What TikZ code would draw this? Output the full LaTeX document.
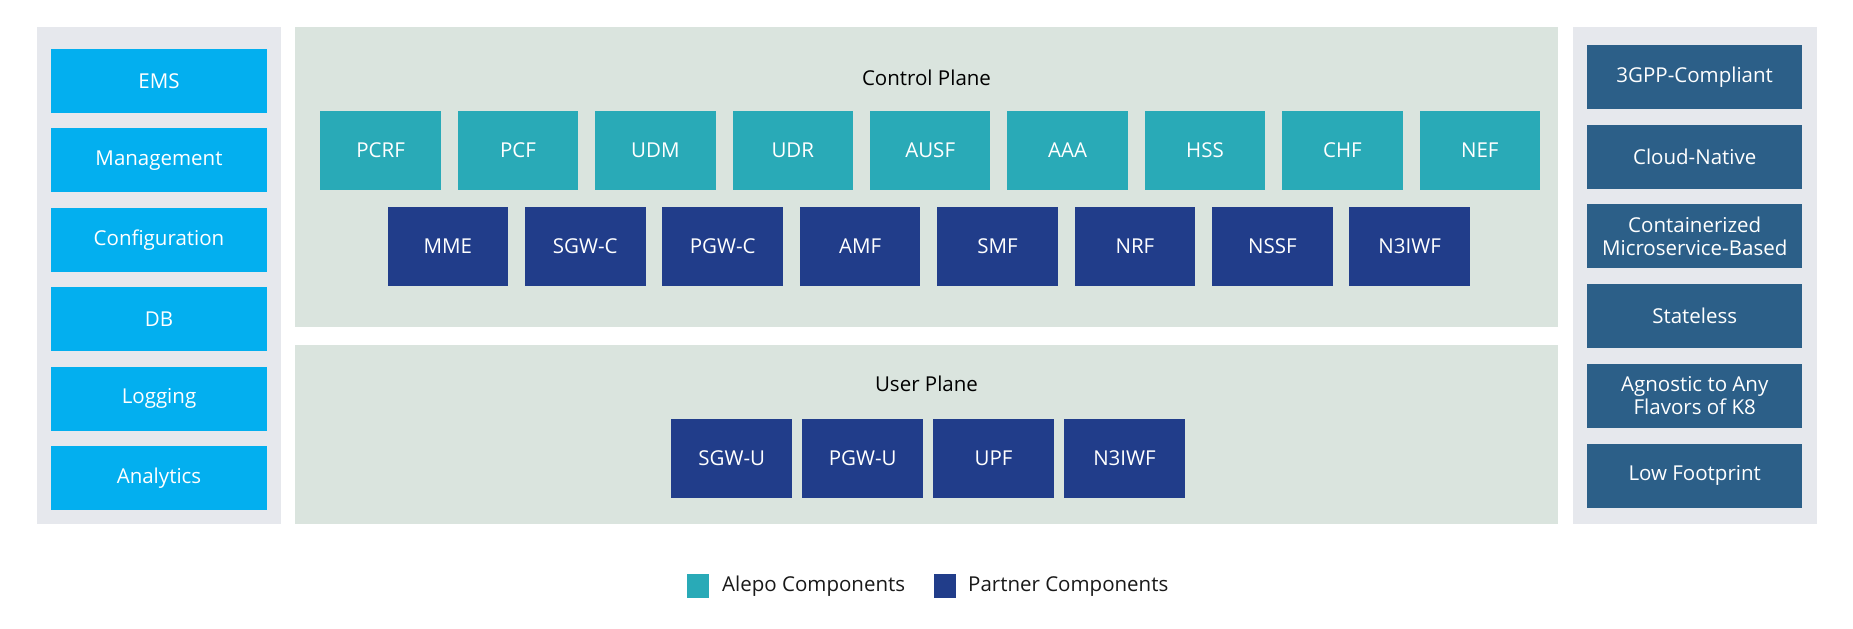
\documentclass[tikz,border=0pt]{standalone}
\usepackage{fontspec}
\setmainfont{Open Sans}
\usepackage{tikz}
\usetikzlibrary{positioning}

\definecolor{sidebg}{HTML}{E6E8ED}
\definecolor{planebg}{HTML}{DAE4DE}
\definecolor{toolblue}{HTML}{03AFEF}
\definecolor{alepo}{HTML}{29AAB7}
\definecolor{partner}{HTML}{213D8A}
\definecolor{feature}{HTML}{2C5F88}

\begin{document}
\begin{tikzpicture}[x=1pt,y=1pt,node distance=16.5pt,
    every node/.style={font=\fontsize{20.5}{23}\selectfont},
    panel/.style={inner sep=0pt,minimum width=1262.2pt},
    side panel/.style={inner sep=0pt,fill=sidebg,minimum width=244pt,minimum height=496.3pt},
    nf node/.style={minimum width=120.5pt,minimum height=79pt,inner sep=0pt,text=white},
    alepo node/.style={nf node,fill=alepo},
    partner node/.style={nf node,fill=partner},
    tool node/.style={minimum width=216.3pt,minimum height=64pt,inner sep=0pt,text=white,fill=toolblue},
    feat node/.style={minimum width=215pt,minimum height=64pt,inner sep=0pt,text=white,fill=feature,align=center},
    legend box/.style={minimum width=22.5pt,minimum height=23.5pt,inner sep=0pt}]

        \useasboundingbox (0,0) rectangle (1853,-629);

        \node[side panel] (left) at (159,-275.4) {};
        \node[side panel] (right) at (1694.8,-275.4) {};
        \node[panel,fill=planebg,minimum height=300.2pt] (cp) at (926.5,-177.3) {};
        \node[panel,fill=planebg,minimum height=178.5pt] (up) at (926.5,-434.3) {};

        \node[tool node] (ems) at (159,-81) {EMS};
        \node[tool node] (mgmt) [below=15pt of ems] {Management};
        \node[tool node] (conf) [below=15pt of mgmt] {Configuration};
        \node[tool node] (db) [below=15pt of conf] {DB};
        \node[tool node] (log) [below=15pt of db] {Logging};
        \node[tool node] (ana) [below=15pt of log] {Analytics};

        \node[feat node] (gpp) at (1694.7,-76.8) {3GPP-Compliant};
        \node[feat node] (cloud) [below=15.4pt of gpp] {Cloud-Native};
        \node[feat node] (cont) [below=15.4pt of cloud] {Containerized\\Microservice-Based};
        \node[feat node] (stless) [below=15.4pt of cont] {Stateless};
        \node[feat node] (agn) [below=15.4pt of stless] {Agnostic to Any\\Flavors of K8};
        \node[feat node] (foot) [below=15.4pt of agn] {Low Footprint};

        \node (cptitle) at (926.5,-78) {Control Plane};
        \node[alepo node] (pcrf) at (380.6,-150.6) {PCRF};
        \node[alepo node] (pcf) [right=of pcrf] {PCF};
        \node[alepo node] (udm) [right=of pcf] {UDM};
        \node[alepo node] (udr) [right=of udm] {UDR};
        \node[alepo node] (ausf) [right=of udr] {AUSF};
        \node[alepo node] (aaa) [right=of ausf] {AAA};
        \node[alepo node] (hss) [right=of aaa] {HSS};
        \node[alepo node] (chf) [right=of hss] {CHF};
        \node[alepo node] (nef) [right=of chf] {NEF};

        \node[partner node] (mme) at (447.9,-246.4) {MME};
        \node[partner node] (sgwc) [right=of mme] {SGW-C};
        \node[partner node] (pgwc) [right=of sgwc] {PGW-C};
        \node[partner node] (amf) [right=of pgwc] {AMF};
        \node[partner node] (smf) [right=of amf] {SMF};
        \node[partner node] (nrf) [right=of smf] {NRF};
        \node[partner node] (nssf) [right=of nrf] {NSSF};
        \node[partner node] (n3c) [right=of nssf] {N3IWF};

        \node (uptitle) at (926.5,-384) {User Plane};
        \node[partner node,minimum width=121pt] (sgwu) at (731.8,-458) {SGW-U};
        \node[partner node,minimum width=121pt] (pgwu) [right=9.5pt of sgwu] {PGW-U};
        \node[partner node,minimum width=121pt] (upf) [right=9.5pt of pgwu] {UPF};
        \node[partner node,minimum width=121pt] (n3u) [right=9.5pt of upf] {N3IWF};

        \node[legend box,fill=alepo] (ka) at (697.8,-586.2) {};
        \node[anchor=west,inner sep=0pt,text=black!90] (kat) at (722,-586.2) {Alepo Components};
        \node[legend box,fill=partner] (kp) at (944.8,-586.2) {};
        \node[anchor=west,inner sep=0pt,text=black!90] (kpt) at (968,-586.2) {Partner Components};
      \end{tikzpicture}
\end{document}
